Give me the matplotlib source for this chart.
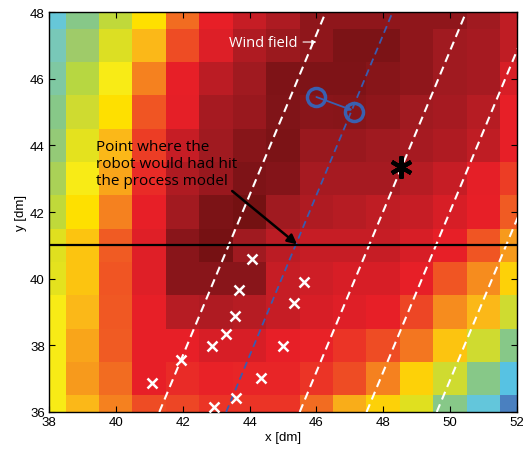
import numpy as np
import matplotlib
matplotlib.use("Agg")
import matplotlib.pyplot as plt
from matplotlib.colors import LinearSegmentedColormap

# concentration map, rows from y=48 (top) down to y=36, columns x=38..52
x_centers = np.arange(38, 53)
y_centers = np.arange(48, 35, -1)
conc = np.array([
    [0.16, 0.26, 0.39, 0.55, 0.68, 0.78, 0.84, 0.885, 0.94, 0.94, 0.94, 0.94, 0.94, 0.91, 0.855],
    [0.20, 0.32, 0.46, 0.60, 0.72, 0.80, 0.88, 0.915, 0.94, 0.975, 0.975, 0.94, 0.91, 0.895, 0.855],
    [0.23, 0.37, 0.52, 0.66, 0.78, 0.86, 0.91, 0.97, 0.97, 0.97, 0.955, 0.94, 0.91, 0.895, 0.81],
    [0.26, 0.42, 0.55, 0.71, 0.785, 0.895, 0.92, 0.965, 0.95, 0.955, 0.94, 0.91, 0.895, 0.87, 0.78],
    [0.29, 0.48, 0.60, 0.74, 0.84, 0.91, 0.955, 0.975, 0.92, 0.92, 0.91, 0.895, 0.88, 0.855, 0.78],
    [0.34, 0.52, 0.62, 0.765, 0.88, 0.92, 0.97, 0.96, 0.895, 0.895, 0.895, 0.87, 0.84, 0.785, 0.74],
    [0.39, 0.55, 0.66, 0.78, 0.905, 0.975, 0.99, 0.91, 0.88, 0.87, 0.855, 0.84, 0.81, 0.78, 0.70],
    [0.47, 0.585, 0.70, 0.795, 0.95, 0.985, 0.91, 0.86, 0.84, 0.84, 0.84, 0.81, 0.78, 0.71, 0.63],
    [0.48, 0.585, 0.71, 0.795, 0.95, 0.95, 0.95, 0.84, 0.825, 0.81, 0.81, 0.78, 0.71, 0.645, 0.57],
    [0.52, 0.60, 0.705, 0.78, 0.87, 0.88, 0.87, 0.84, 0.81, 0.795, 0.78, 0.73, 0.645, 0.60, 0.42],
    [0.52, 0.62, 0.70, 0.78, 0.78, 0.81, 0.81, 0.78, 0.775, 0.75, 0.72, 0.67, 0.585, 0.42, 0.26],
    [0.52, 0.63, 0.68, 0.78, 0.765, 0.775, 0.77, 0.77, 0.75, 0.72, 0.66, 0.57, 0.42, 0.26, 0.12],
    [0.52, 0.60, 0.66, 0.72, 0.73, 0.75, 0.75, 0.75, 0.68, 0.61, 0.57, 0.47, 0.26, 0.15, 0.0],
])

# wind field lines: x position at y=36 and common slope dx/dy
wind_x0 = [41.3, 45.5, 47.5, 49.6]
robot_x0 = 43.3
wind_slope = 0.415

# robot positions (blue circles) and source estimate
robot_x = [46.0, 47.13]
robot_y = [45.45, 45.0]
source_x, source_y = 48.54, 43.35

# measurement points
meas_x = [44.07, 43.68, 43.55, 43.28, 42.89, 41.95, 41.07, 42.95, 43.6, 44.35, 45.63, 45.34, 45.0]
meas_y = [40.59, 39.67, 38.87, 38.33, 37.97, 37.56, 36.86, 36.16, 36.41, 37.01, 39.91, 39.26, 37.99]

process_y = 41.0
hit_point = (45.42, 41.03)

# softened jet-like palette
cmap = LinearSegmentedColormap.from_list("softjet", [
    (0.00, "#4a80c0"), (0.12, "#58c4e4"), (0.16, "#68c8d8"), (0.20, "#78c8b8"),
    (0.26, "#88c888"), (0.32, "#a0cc68"), (0.37, "#b8d840"), (0.42, "#d0dc30"),
    (0.47, "#e0e020"), (0.52, "#f8ec18"), (0.55, "#ffe000"), (0.60, "#fbb818"),
    (0.66, "#f58020"), (0.71, "#f05524"), (0.78, "#e82028"), (0.84, "#c81e26"),
    (0.91, "#a01a20"), (0.97, "#801418"), (1.00, "#701010"),
])

plt.rcParams['font.family'] = ['Liberation Sans', 'DejaVu Sans']

fig = plt.figure(figsize=(5.23, 4.52), dpi=100)
ax = fig.add_axes([0.0937, 0.0863, 0.8948, 0.8849])

ax.imshow(conc, cmap=cmap, vmin=0, vmax=1, interpolation='nearest', aspect='auto',
          extent=(x_centers[0] - 0.5, x_centers[-1] + 0.5, y_centers[-1] - 0.5, y_centers[0] + 0.5),
          origin='upper', zorder=1)

yy = np.array([36.0, 48.0])
for x0 in wind_x0:
    ax.plot(x0 + wind_slope * (yy - 36), yy, color='white', lw=1.5, dashes=(4, 2.5), zorder=3)
ax.plot(robot_x0 + wind_slope * (yy - 36), yy, color='#3a5cb0', lw=1.3, dashes=(4, 2.5), zorder=3)

ax.axhline(process_y, color='black', lw=1.6, zorder=4)

ax.plot(meas_x, meas_y, 'x', color='white', ms=7.5, mew=1.8, zorder=5)

ax.plot(robot_x, robot_y, 'o', mfc='none', mec='#3a60b0', ms=13, mew=2.5, zorder=5)
ax.annotate('', xy=(robot_x[1] - 0.05, robot_y[1] + 0.05), xytext=(robot_x[0], robot_y[0]),
            arrowprops=dict(arrowstyle='-|>', color='#3a60b0', lw=1.3, mutation_scale=9,
                            shrinkA=0, shrinkB=0), zorder=5)

ax.plot(source_x, source_y, marker=(6, 2, 0), color='black', ms=16, mew=3, zorder=6)

ax.text(43.39, 47.1, 'Wind field', color='white', fontsize=10.5, family=['Open Sans', 'DejaVu Sans'],
        va='center', ha='left', zorder=6)
ax.annotate('', xy=(46.0, 47.1), xytext=(45.6, 47.1),
            arrowprops=dict(arrowstyle='-|>', color='white', lw=0.8, mutation_scale=6,
                            shrinkA=0, shrinkB=0), zorder=6)

ax.text(39.41, 44.2, 'Point where the\nrobot would had hit\nthe process model', color='black',
        fontsize=11, family=['Open Sans', 'DejaVu Sans'], va='top', ha='left',
        linespacing=1.2, zorder=6)
ax.annotate('', xy=hit_point, xytext=(43.48, 42.63),
            arrowprops=dict(arrowstyle='-|>', color='black', lw=1.8, mutation_scale=14,
                            shrinkA=0, shrinkB=0), zorder=6)

ax.set_xlim(38, 52)
ax.set_ylim(36, 48)
ax.set_xticks(np.arange(38, 53, 2))
ax.set_yticks(np.arange(36, 49, 2))
ax.tick_params(direction='in', top=True, right=True, length=4, width=0.8, labelsize=9.5, pad=3)
for s in ax.spines.values():
    s.set_linewidth(1.0)
ax.set_xlabel('x [dm]', fontsize=9.5, labelpad=2)
ax.set_ylabel('y [dm]', fontsize=9.5, labelpad=2)

fig.savefig('out.png', dpi=100)
